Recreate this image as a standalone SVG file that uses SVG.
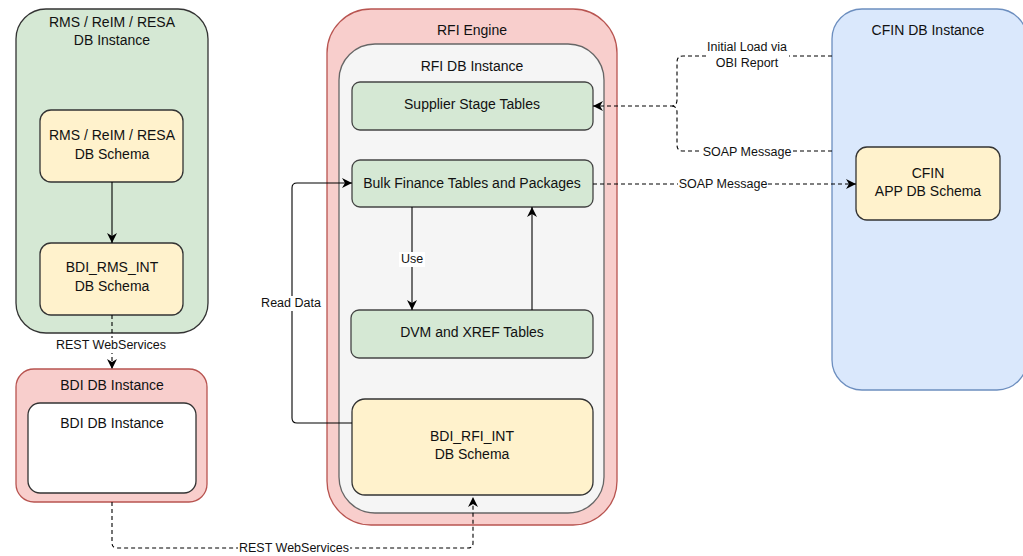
<svg xmlns="http://www.w3.org/2000/svg" width="1023" height="556" viewBox="0 0 1023 556">
<style>
text{font-family:"Liberation Sans",Arial,sans-serif;fill:#111;text-anchor:middle}
.t{font-size:14px}
.l{font-size:12.5px}
.green{fill:#d5e8d4;stroke:#333;stroke-width:1.3}
.gnode{fill:#d5e8d4;stroke:#444;stroke-width:1.3}
.ynode{fill:#fff2cc;stroke:#333;stroke-width:1.3}
.red{fill:#f8cecc;stroke:#b85450;stroke-width:1.3}
.gray{fill:#f5f5f5;stroke:#666;stroke-width:1.3}
.blue{fill:#dae8fc;stroke:#6c8ebf;stroke-width:1.3}
.white{fill:#fff;stroke:#333;stroke-width:1.3}
.c{fill:none;stroke:#000;stroke-width:1.1}
.d{stroke-dasharray:4 3}
.bg{fill:#fff}
</style>
<defs>
<marker id="a" markerUnits="userSpaceOnUse" markerWidth="10" markerHeight="10" viewBox="0 0 10 10" refX="10" refY="5" orient="auto">
<path d="M0,0 L10,5 L0,10 L3,5 z" fill="#000"/>
</marker>
</defs>

<g id="rms-instance">
<rect class="green" x="16" y="9" width="192" height="324" rx="30"/>
<text class="t" x="112" y="27">RMS / ReIM / RESA</text>
<text class="t" x="112" y="45">DB Instance</text>
</g>
<g id="rms-schema">
<rect class="ynode" x="40" y="110" width="143" height="72" rx="11"/>
<text class="t" x="112" y="140">RMS / ReIM / RESA</text>
<text class="t" x="112" y="159">DB Schema</text>
</g>
<g id="bdi-rms-int">
<rect class="ynode" x="40" y="243" width="143" height="72" rx="11"/>
<text class="t" x="112" y="272">BDI_RMS_INT</text>
<text class="t" x="112" y="291">DB Schema</text>
</g>
<g id="bdi-instance">
<rect class="red" x="16" y="369" width="191" height="133" rx="18"/>
<text class="t" x="112" y="390">BDI DB Instance</text>
</g>
<g id="bdi-inner">
<rect class="white" x="28" y="403" width="168" height="90" rx="12"/>
<text class="t" x="112" y="428">BDI DB Instance</text>
</g>
<g id="rfi-engine">
<rect class="red" x="327" y="9" width="290" height="516" rx="44"/>
<text class="t" x="472" y="35">RFI Engine</text>
</g>
<g id="rfi-db">
<rect class="gray" x="339" y="44" width="265" height="469" rx="36"/>
<text class="t" x="472" y="71">RFI DB Instance</text>
</g>
<g id="supplier">
<rect class="gnode" x="352" y="82" width="241" height="48" rx="8"/>
<text class="t" x="472" y="109">Supplier Stage Tables</text>
</g>
<g id="bulk">
<rect class="gnode" x="352" y="160" width="241" height="47" rx="8"/>
<text class="t" x="472" y="188">Bulk Finance Tables and Packages</text>
</g>
<g id="dvm">
<rect class="gnode" x="351" y="310" width="242" height="48" rx="8"/>
<text class="t" x="472" y="337">DVM and XREF Tables</text>
</g>
<g id="bdi-rfi-int">
<rect class="ynode" x="352" y="399" width="241" height="96" rx="13"/>
<text class="t" x="472" y="441">BDI_RFI_INT</text>
<text class="t" x="472" y="459">DB Schema</text>
</g>
<g id="cfin-instance">
<rect class="blue" x="832" y="9" width="195" height="381" rx="30"/>
<text class="t" x="928" y="35">CFIN DB Instance</text>
</g>
<g id="cfin-schema">
<rect class="ynode" x="856" y="147" width="144" height="73" rx="11"/>
<text class="t" x="928" y="178">CFIN</text>
<text class="t" x="928" y="196">APP DB Schema</text>
</g>

<g id="connectors">
<path class="c" d="M112,182 L112,243" marker-end="url(#a)"/>
<path class="c d" d="M112,315 L112,369" marker-end="url(#a)"/>
<path class="c d" d="M112,502 L112,543 Q112,548 117,548 L468,548 Q473,548 473,543 L473,497" marker-end="url(#a)"/>
<path class="c" d="M412,207 L412,310" marker-end="url(#a)"/>
<path class="c" d="M532,310 L532,207" marker-end="url(#a)"/>
<path class="c" d="M352,423 L297,423 Q292,423 292,418 L292,188 Q292,183 297,183 L352,183" marker-end="url(#a)"/>
<path class="c d" d="M832,56 L683,56 Q677,56 677,62 L677,100 Q677,106 671,106 L593,106" marker-end="url(#a)"/>
<path class="c d" d="M832,151 L683,151 Q677,151 677,145 L677,112 Q677,106 671,106"/>
<path class="c d" d="M593,184 L856,184" marker-end="url(#a)"/>
<rect class="bg" x="55" y="338" width="112" height="15"/>
<text class="l" x="111" y="349">REST WebServices</text>
<rect class="bg" x="238" y="541" width="112" height="15"/>
<text class="l" x="294" y="552">REST WebServices</text>
<rect class="bg" x="399" y="252" width="26" height="15"/>
<text class="l" x="412" y="263">Use</text>
<rect class="bg" x="262" y="296" width="60" height="15"/>
<text class="l" x="291" y="307">Read Data</text>
<rect class="bg" x="707" y="40" width="82" height="30"/>
<text class="l" x="747" y="51">Initial Load via</text>
<text class="l" x="747" y="67">OBI Report</text>
<rect class="bg" x="702" y="145" width="90" height="15"/>
<text class="l" x="747" y="156">SOAP Message</text>
<rect class="bg" x="678" y="177" width="90" height="15"/>
<text class="l" x="723" y="188">SOAP Message</text>
</g>
</svg>
